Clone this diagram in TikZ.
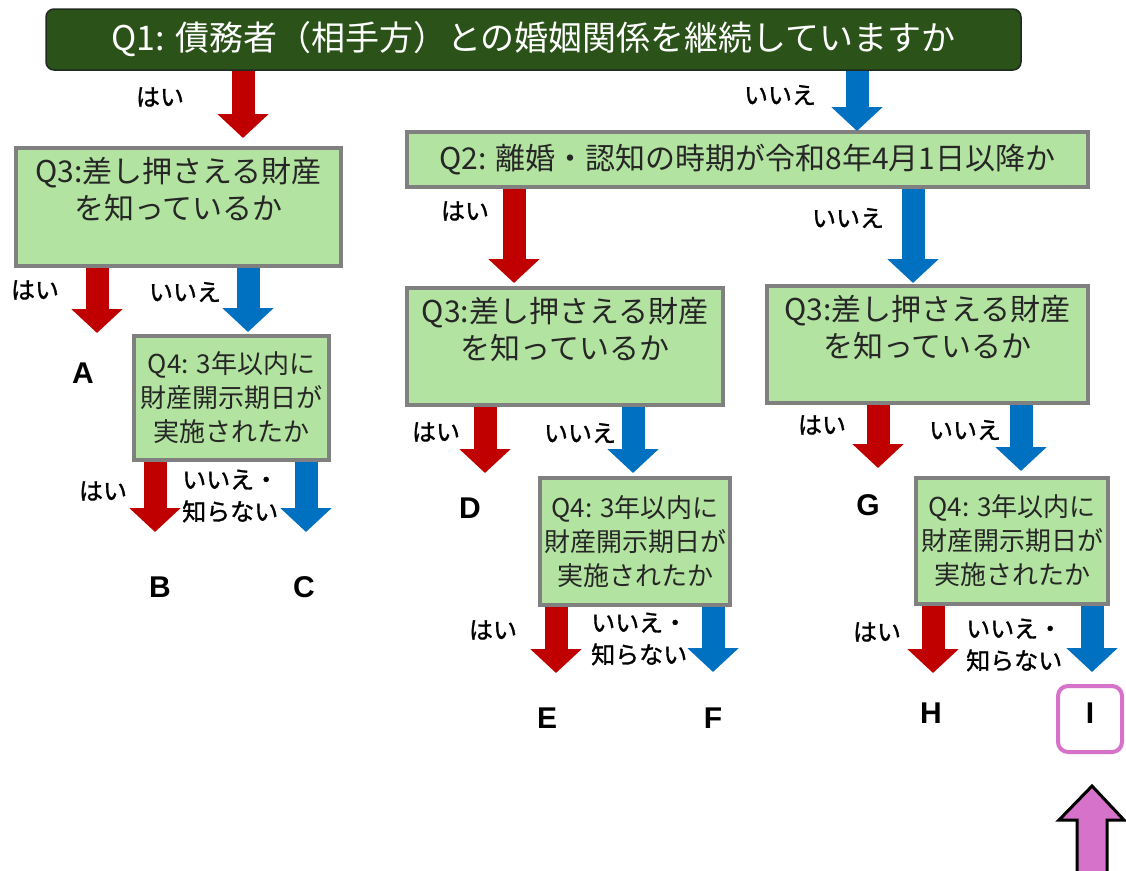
\documentclass[tikz,border=0pt]{standalone}
\usepackage{fontspec}
\newfontfamily\jp{Noto Sans CJK JP}
\newfontfamily\jpb[FakeBold=1.3]{Noto Sans CJK JP}
\newfontfamily\lat{Liberation Sans}
\usetikzlibrary{arrows.meta}
\definecolor{darkg}{HTML}{2A5219}
\definecolor{darkgb}{HTML}{1E2B1E}
\definecolor{lightg}{HTML}{B3E3A0}
\definecolor{boxgray}{HTML}{808080}
\definecolor{yesred}{HTML}{C00000}
\definecolor{noblue}{HTML}{0070C0}
\definecolor{pinkb}{HTML}{D772CB}
\tikzset{
  topbox/.style={draw=darkgb, line width=1.5pt, fill=darkg, rounded corners=8pt, text=white,
    font=\jp\fontsize{34}{40}\selectfont, inner sep=0pt},
  gbox/.style={draw=boxgray, line width=4pt, fill=lightg, inner sep=1pt, align=center, text=black!85},
  q3font/.style={font=\jp\fontsize{30}{37}\selectfont},
  q4font/.style={font=\jp\fontsize{26}{34}\selectfont},
  lbl/.style={font=\jpb\fontsize{24}{32}\selectfont, inner sep=0pt},
  lbl2/.style={font=\jpb\fontsize{24}{32}\selectfont, inner sep=0pt, align=left, anchor=west},
  letter/.style={font=\lat\bfseries\fontsize{30}{36}\selectfont, inner sep=0pt},
  blk/.style={line width=23pt, -{Triangle[length=24pt,width=50pt]}},
  redarr/.style={blk, draw=yesred},
  bluearr/.style={blk, draw=noblue},
}
\begin{document}
\begin{tikzpicture}[x=1pt,y=-1pt]
\useasboundingbox (0,0) rectangle (1126,870);

% arrow end coordinates
\coordinate (e1) at (243,138);
\coordinate (e2) at (857,131);
\coordinate (e3) at (97,333);
\coordinate (e4) at (248,332);
\coordinate (e5) at (155,532);
\coordinate (e6) at (306,532);
\coordinate (e7) at (514,283);
\coordinate (e8) at (913,283);
\coordinate (e9) at (485,473);
\coordinate (e10) at (633,473);
\coordinate (e11) at (556,673);
\coordinate (e12) at (713,672);
\coordinate (e13) at (878,468);
\coordinate (e14) at (1021,471);
\coordinate (e15) at (933,673);
\coordinate (e16) at (1092,672);

% boxes
\node[topbox, minimum width=975pt, minimum height=61pt] (q1) at (533.5,39.5) {Q1: 債務者（相手方）との婚姻関係を継続していますか};
\node[gbox, q3font, minimum width=325pt, minimum height=118pt] (q3a) at (178.5,207) {Q3:差し押さえる財産\\を知っているか\\ };
\node[gbox, font=\jp\fontsize{30}{36}\selectfont, minimum width=681pt, minimum height=55pt] (q2) at (747.5,159.5) {Q2: 離婚・認知の時期が令和8年4月1日以降か};
\node[gbox, q3font, minimum width=316pt, minimum height=117pt] (q3b) at (565,346.5) {Q3:差し押さえる財産\\を知っているか\\ };
\node[gbox, q3font, minimum width=321pt, minimum height=117pt] (q3c) at (927.5,344.5) {Q3:差し押さえる財産\\を知っているか\\ };
\node[gbox, q4font, minimum width=195pt, minimum height=124pt] (q4a) at (231.5,398) {Q4: 3年以内に\\財産開示期日が\\実施されたか};
\node[gbox, q4font, minimum width=190pt, minimum height=127pt] (q4b) at (635,541.5) {Q4: 3年以内に\\財産開示期日が\\実施されたか};
\node[gbox, q4font, minimum width=192pt, minimum height=126pt] (q4c) at (1012,541) {Q4: 3年以内に\\財産開示期日が\\実施されたか};

% arrows
\draw[redarr] (e1 |- q1.south) -- (e1);
\draw[bluearr] (e2 |- q1.south) -- (e2);
\draw[redarr] (e3 |- q3a.south) -- (e3);
\draw[bluearr] (e4 |- q3a.south) -- (e4);
\draw[redarr] (e5 |- q4a.south) -- (e5);
\draw[bluearr] (e6 |- q4a.south) -- (e6);
\draw[redarr] (e7 |- q2.south) -- (e7);
\draw[bluearr] (e8 |- q2.south) -- (e8);
\draw[redarr] (e9 |- q3b.south) -- (e9);
\draw[bluearr] (e10 |- q3b.south) -- (e10);
\draw[redarr] (e11 |- q4b.south) -- (e11);
\draw[bluearr] (e12 |- q4b.south) -- (e12);
\draw[redarr] (e13 |- q3c.south) -- (e13);
\draw[bluearr] (e14 |- q3c.south) -- (e14);
\draw[redarr] (e15 |- q4c.south) -- (e15);
\draw[bluearr] (e16 |- q4c.south) -- (e16);

% labels
\node[lbl] (l1) at (160,97) {はい};
\node[lbl] (l2) at (780,95) {いいえ};
\node[lbl] (l3) at (35,290) {はい};
\node[lbl] (l4) at (185,292) {いいえ};
\node[lbl] (l5) at (103,491) {はい};
\node[lbl2] (l6) at (182,496) {いいえ・\\知らない};
\node[lbl] (l7) at (465,211) {はい};
\node[lbl] (l8) at (848,218) {いいえ};
\node[lbl] (l9) at (436,432) {はい};
\node[lbl] (l10) at (580,433) {いいえ};
\node[lbl] (l11) at (493,630) {はい};
\node[lbl2] (l12) at (591,639) {いいえ・\\知らない};
\node[lbl] (l13) at (822,425) {はい};
\node[lbl] (l14) at (965,430) {いいえ};
\node[lbl] (l15) at (877,632) {はい};
\node[lbl2] (l16) at (966,645) {いいえ・\\知らない};

% outcomes
\node[letter] (A) at (83,373) {A};
\node[letter] (B) at (160,587) {B};
\node[letter] (C) at (304,587) {C};
\node[letter] (D) at (470,508) {D};
\node[letter] (E) at (547,718) {E};
\node[letter] (F) at (713,718) {F};
\node[letter] (G) at (868,505) {G};
\node[letter] (H) at (931,713) {H};
\node[draw=pinkb, line width=4pt, rounded corners=10pt, minimum width=64pt, minimum height=66pt, inner sep=0pt] (Ibox) at (1090,719) {};
\node[letter] (I) at (1090,713) {I};

% pink pointer arrow
\draw[line width=3pt, fill=pinkb, line join=miter] (1092,786) -- (1124,820) -- (1107,820) -- (1107,875) -- (1077,875) -- (1077,820) -- (1059,820) -- cycle;
\end{tikzpicture}
\end{document}
